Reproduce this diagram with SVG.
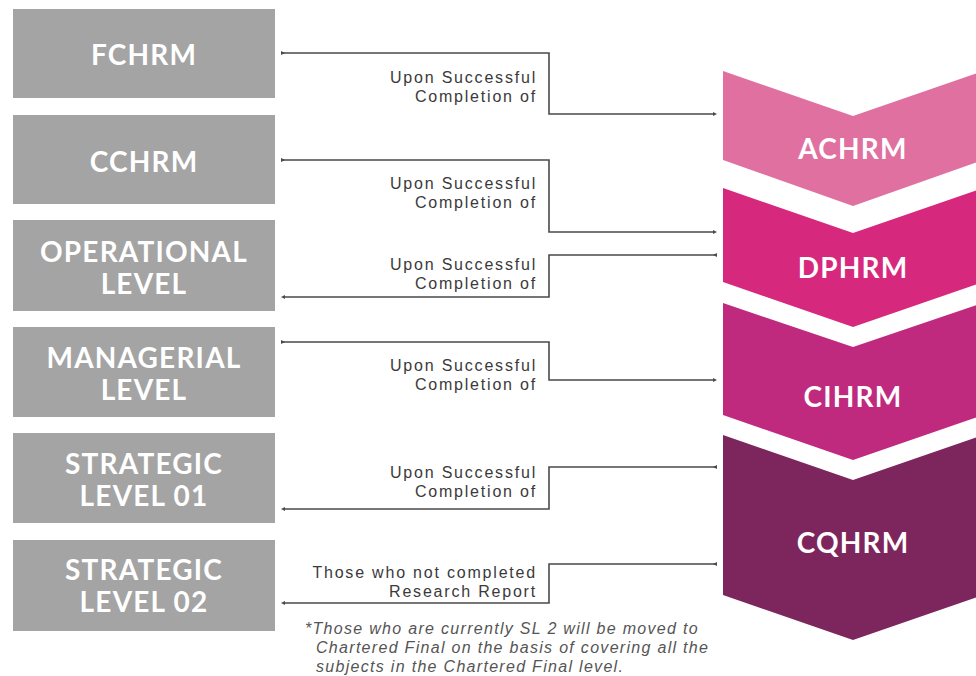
<svg xmlns="http://www.w3.org/2000/svg" width="976" height="676" viewBox="0 0 976 676">
<defs>
<style>
.box{fill:#a4a4a4}
.bt{font-family:Lato,"Liberation Sans",sans-serif;font-weight:700;font-size:28px;letter-spacing:1.2px;fill:#fff;text-anchor:middle}
.ct{font-family:Lato,"Liberation Sans",sans-serif;font-weight:700;font-size:28px;letter-spacing:1.2px;fill:#fff;text-anchor:middle}
.lbl{font-family:"Liberation Sans",Arial,sans-serif;font-size:16px;letter-spacing:1.8px;fill:#3a3a3a;text-anchor:end}
.note{font-family:"Liberation Sans",Arial,sans-serif;font-style:italic;font-size:16px;letter-spacing:1.3px;fill:#555}
.conn{fill:none;stroke:#4a4a4a;stroke-width:1.6;marker-start:url(#dot);marker-end:url(#dot)}
</style>
<marker id="dot" viewBox="0 0 6 6" refX="3" refY="3" markerWidth="4" markerHeight="4" orient="auto" markerUnits="userSpaceOnUse">
<path d="M0,0 L6,3 L0,6 Z" fill="#4a4a4a"/>
</marker>
</defs>
<rect width="976" height="676" fill="#fff"/>

<g id="fchrm"><rect class="box" x="13" y="9" width="262" height="89"/><text class="bt" x="144" y="65">FCHRM</text></g>
<g id="cchrm"><rect class="box" x="13" y="115" width="262" height="89"/><text class="bt" x="144" y="172">CCHRM</text></g>
<g id="operational"><rect class="box" x="13" y="220" width="262" height="91"/><text class="bt" x="144" y="262">OPERATIONAL</text><text class="bt" x="144" y="294">LEVEL</text></g>
<g id="managerial"><rect class="box" x="13" y="327" width="262" height="90"/><text class="bt" x="144" y="368">MANAGERIAL</text><text class="bt" x="144" y="400">LEVEL</text></g>
<g id="strategic1"><rect class="box" x="13" y="433" width="262" height="90"/><text class="bt" x="144" y="474">STRATEGIC</text><text class="bt" x="144" y="506">LEVEL 01</text></g>
<g id="strategic2"><rect class="box" x="13" y="540" width="262" height="91"/><text class="bt" x="144" y="580">STRATEGIC</text><text class="bt" x="144" y="612">LEVEL 02</text></g>

<g id="achrm"><polygon points="723,71 853,116 983,71 983,160 853,206 723,160" fill="#e070a0"/><text class="ct" x="853" y="159">ACHRM</text></g>
<g id="dphrm"><polygon points="723,188 853,233 983,188 983,282 853,327 723,282" fill="#d6297d"/><text class="ct" x="853" y="278">DPHRM</text></g>
<g id="cihrm"><polygon points="723,303 853,347 983,303 983,415 853,460 723,415" fill="#bf2a7e"/><text class="ct" x="853" y="407">CIHRM</text></g>
<g id="cqhrm"><polygon points="723,435 853,480 983,435 983,595 853,640 723,595" fill="#7d265d"/><text class="ct" x="853" y="553">CQHRM</text></g>

<g id="connectors">
<polyline class="conn" points="283,53 549,53 549,114 715,114"/>
<polyline class="conn" points="283,160 549,160 549,232 715,232"/>
<polyline class="conn" points="715,255 549,255 549,297 283,297"/>
<polyline class="conn" points="283,342 549,342 549,380 715,380"/>
<polyline class="conn" points="715,467 549,467 549,509 283,509"/>
<polyline class="conn" points="715,564 549,564 549,603 283,603"/>
</g>

<g id="labels">
<text class="lbl" x="537" y="83">Upon Successful</text><text class="lbl" x="537" y="102">Completion of</text>
<text class="lbl" x="537" y="189">Upon Successful</text><text class="lbl" x="537" y="208">Completion of</text>
<text class="lbl" x="537" y="270">Upon Successful</text><text class="lbl" x="537" y="289">Completion of</text>
<text class="lbl" x="537" y="371">Upon Successful</text><text class="lbl" x="537" y="390">Completion of</text>
<text class="lbl" x="537" y="478">Upon Successful</text><text class="lbl" x="537" y="497">Completion of</text>
<text class="lbl" x="537" y="578">Those who not completed</text><text class="lbl" x="537" y="597">Research Report</text>
</g>
<g id="footnote">
<text class="note" x="305" y="634">*Those who are currently SL 2 will be moved to</text>
<text class="note" x="316" y="653">Chartered Final on the basis of covering all the</text>
<text class="note" x="316" y="672">subjects in the Chartered Final level.</text>
</g>
</svg>
